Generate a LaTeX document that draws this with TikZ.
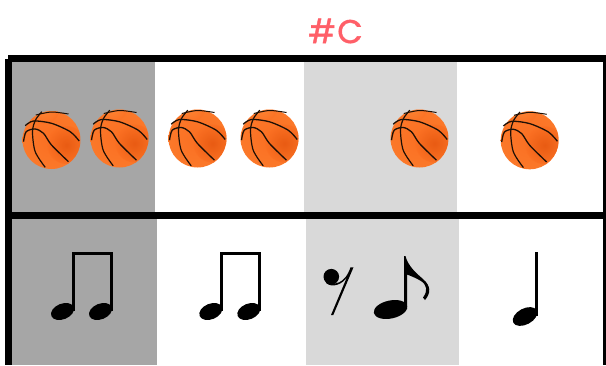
\documentclass[tikz,border=0pt]{standalone}
\usepackage{fontspec}
\setmainfont{Poppins}
\newfontfamily\titlefont[FakeBold=1.2, LetterSpace=4]{Poppins}
\usepackage{xcolor}
\usetikzlibrary{positioning, calc}
\definecolor{gridDark}{HTML}{A6A6A6}
\definecolor{gridLight}{HTML}{D9D9D9}
\definecolor{titleRed}{HTML}{FF5F68}
\definecolor{ballBase}{HTML}{FA6F22}
\definecolor{ballShade}{HTML}{E4550E}
\definecolor{ballEdge}{HTML}{FF9440}
\definecolor{ballSeam}{HTML}{1E1006}
\tikzset{
  pics/ball/.style={code={
    \shade[inner color=ballBase, outer color=ballBase!75!ballEdge] (0,0) circle (29);
    \begin{scope}
      \clip (0,0) circle (29);
      \shade[inner color=ballShade, outer color=ballBase, opacity=0.8] (15,5) circle (19);
      \shade[inner color=ballEdge, outer color=ballBase, opacity=0.5] (-8,-32) circle (16);
    \end{scope}
    \draw[ballSeam, line width=1.2pt] plot[smooth] coordinates {(-9.7,-28.3) (-16,-20) (-19,-8.3) (-16.3,11.7) (-6.3,27.3)};
    \draw[ballSeam, line width=1pt] plot[smooth] coordinates {(-15.7,-25) (0,-28) (17,-26)};
    \draw[ballSeam, line width=1.3pt] plot[smooth] coordinates {(-26.3,-14.3) (-18,-19) (0,-16.7) (18.7,-8.3) (27.7,1)};
    \draw[ballSeam, line width=1.3pt] plot[smooth] coordinates {(-28,1.7) (-25.3,-8.3) (-16.3,-11) (-8,-6.7) (0,5) (17,21.7)};
  }},
  pics/beamed/.style={code={
    \fill (0,0) ellipse [x radius=12, y radius=7.8, rotate=22];
    \fill (38,0) ellipse [x radius=12, y radius=7.8, rotate=22];
    \draw[line width=2.7pt, line join=miter] (11,-1) -- (11,-58.2) -- (49,-58.2) -- (49,-1);
  }}
}
\begin{document}
\begin{tikzpicture}[x=1pt, y=-1pt]
  \useasboundingbox (0,0) rectangle (606,365);
  % Fondos
  \foreach \xa/\xb/\ya/\yb/\c in {12/155/62/212/gridDark, 304/457/62/212/gridLight,
                                  12/157/218/365/gridDark, 306/459/218/365/gridLight} {
    \fill[\c] (\xa,\ya) rectangle (\xb,\yb);
  }
  % Rejilla
  \fill (8,55) rectangle (606,62);
  \fill (5,59) rectangle (12,365);
  \fill (5,212) rectangle (606,218.5);
  \fill (603,55) rectangle (606,365);
  % Balones
  \foreach \x/\y in {51.5/140, 119.5/138.5, 197.5/138.5, 269.5/138.5, 419.5/138.5, 529.7/140.3} {
    \pic at (\x,\y) {ball};
  }
  % Notas
  \pic at (62.5,311.5) {beamed};
  \pic at (210.8,311.5) {beamed};
  % Silencio
  \fill (331.3,276.7) circle (7.8);
  \fill (326,281) .. controls (334,286) and (345,284) .. (350.5,267.3) -- (353.5,267.3) -- (333.3,315) -- (331,315) -- (347,277) .. controls (342,285) and (332,288) .. (326,283) -- cycle;
  % Corchea
  \fill (390.5,309.5) ellipse [x radius=17, y radius=9, rotate=12];
  \fill (404.2,309) -- (404.2,256) -- (405.5,256)
    .. controls (408,266) and (416,273) .. (423,279)
    .. controls (431,286) and (431,293) .. (425,300)
    -- (423,297.5)
    .. controls (428,291) and (427,285) .. (421,281)
    .. controls (416,278) and (411,276) .. (407,274.5)
    -- (407,309) -- cycle;
  % Negra
  \fill (525,316.5) ellipse [x radius=13.2, y radius=8, rotate=28];
  \draw[line width=2.4pt] (536.5,316) -- (536.5,251.7);
  % Titulo
  \node[text=titleRed, font=\titlefont\fontsize{33}{33}\selectfont, inner sep=0pt] (titleC) at (335.5,31) {\#C};
\end{tikzpicture}
\end{document}
